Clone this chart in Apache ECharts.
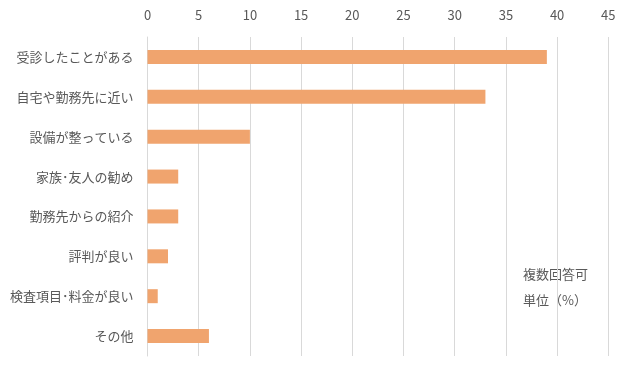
<!DOCTYPE html>
<html><head><meta charset="utf-8">
<script src="https://cdn.jsdelivr.net/npm/echarts@6/dist/echarts.min.js"></script>
<style>html,body{margin:0;padding:0;background:#fff}#c{width:632px;height:371px}</style>
</head><body><div id="c"></div>
<script>
const categories = ['受診したことがある','自宅や勤務先に近い','設備が整っている','家族･友人の勧め','勤務先からの紹介','評判が良い','検査項目･料金が良い','その他'];
const values = [39, 33, 10, 3, 3, 2, 1, 6];
const noteLines = ['複数回答可', '単位（%）'];
const FONT = '"Noto Sans CJK JP", "Noto Sans", sans-serif';
const chart = echarts.init(document.getElementById('c'), null, {renderer:'canvas'});
chart.setOption({
  animation: false,
  textStyle: {fontFamily: FONT},
  grid: {left: 147.5, right: 23.7, top: 37, bottom: 15, containLabel: false},
  xAxis: {
    type: 'value', position: 'top', min: 0, max: 45, interval: 5,
    axisLine: {show: false}, axisTick: {show: false},
    axisLabel: {color: '#595959', fontSize: 13, margin: 15, fontFamily: FONT},
    splitLine: {lineStyle: {color: '#d9d9d9', width: 1}}
  },
  yAxis: {
    type: 'category', data: categories, inverse: true,
    axisLine: {show: true, lineStyle: {color: '#d9d9d9'}},
    axisTick: {show: false},
    axisLabel: {color: '#595959', fontSize: 13, margin: 14, fontFamily: FONT}
  },
  series: [{
    type: 'bar', data: values, barWidth: 14,
    itemStyle: {color: '#F0A46E'}
  }],
  graphic: noteLines.map((t, i) => ({
    type: 'text', left: 523, top: 268 + i * 26,
    style: {text: t, fill: '#595959', font: '13px ' + FONT}
  }))
});
</script></body></html>
